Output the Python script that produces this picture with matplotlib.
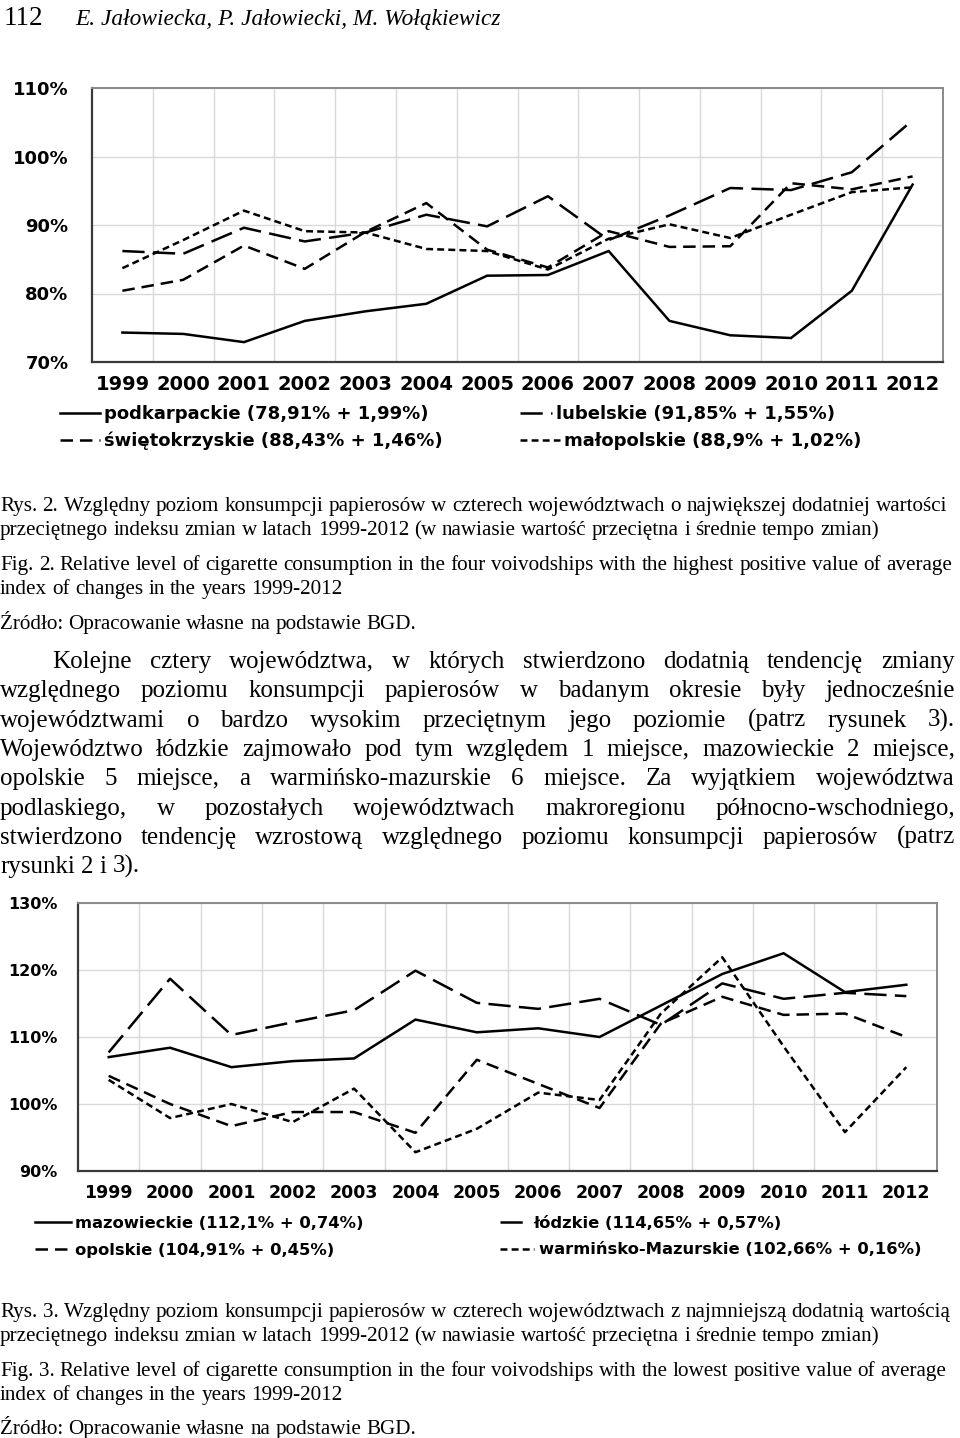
from __future__ import annotations

import matplotlib

matplotlib.use("Agg")
import matplotlib.pyplot as plt
from matplotlib.lines import Line2D
from matplotlib.ticker import FixedLocator

OUT_PNG = "out.png"
W, H = 960, 1438
DPI = 100
SERIF = "Liberation Serif"

YEARS = ["1999", "2000", "2001", "2002", "2003", "2004", "2005",
         "2006", "2007", "2008", "2009", "2010", "2011", "2012"]

# Rys. 2 (values in %)
PODKARPACKIE = [74.3, 74.1, 72.9, 76.0, 77.4, 78.5, 82.6, 82.7, 86.2, 76.0, 73.9, 73.5, 80.4, 95.9]
LUBELSKIE = [86.2, 85.8, 89.6, 87.6, 88.9, 91.5, 89.8, 94.2, 87.8, 91.4, 95.4, 95.1, 97.7, 105.3]
SWIETOKRZYSKIE = [80.4, 82.0, 87.0, 83.6, 89.0, 93.2, 86.4, 83.8, 89.1, 86.8, 86.9, 96.1, 95.2, 97.1]
MALOPOLSKIE = [83.7, 87.8, 92.1, 89.1, 88.9, 86.5, 86.2, 83.5, 88.0, 90.1, 88.1, 91.5, 94.8, 95.5]
LABELS_2 = ["podkarpackie (78,91% + 1,99%)", "lubelskie (91,85% + 1,55%)",
            "świętokrzyskie (88,43% + 1,46%)", "małopolskie (88,9% + 1,02%)"]
YTICKS_2 = [70, 80, 90, 100, 110]

# Rys. 3 (values in %)
MAZOWIECKIE = [107.0, 108.4, 105.5, 106.4, 106.8, 112.6, 110.7, 111.3, 110.0, 114.7, 119.4, 122.5, 116.7, 117.8]
LODZKIE = [107.7, 118.7, 110.3, 112.2, 114.0, 119.9, 115.1, 114.2, 115.7, 111.8, 118.0, 115.7, 116.6, 116.1]
OPOLSKIE = [104.2, 100.0, 96.7, 98.8, 98.8, 95.7, 106.6, 103.0, 99.4, 112.0, 116.0, 113.3, 113.5, 110.0]
WARMINSKO = [103.6, 97.9, 100.0, 97.3, 102.3, 92.8, 96.3, 101.7, 100.6, 113.5, 121.9, 108.6, 95.8, 105.5]
LABELS_3 = ["mazowieckie (112,1% + 0,74%)", "łódzkie (114,65% + 0,57%)",
            "opolskie (104,91% + 0,45%)", "warmińsko-Mazurskie (102,66% + 0,16%)"]
YTICKS_3 = [90, 100, 110, 120, 130]

HEADER_NUM = "112"
HEADER_AUTHORS = "E. Jałowiecka, P. Jałowiecki, M. Wołąkiewicz"

CAPTION_2 = [
    "Rys. 2. Względny poziom konsumpcji papierosów w czterech województwach o największej dodatniej wartości",
    "przeciętnego indeksu zmian w latach 1999-2012 (w nawiasie wartość przeciętna i średnie tempo zmian)",
    "Fig. 2. Relative level of cigarette consumption in the four voivodships with the highest positive value of average",
    "index of changes in the years 1999-2012",
    "Źródło: Opracowanie własne na podstawie BGD.",
]
CAPTION_3 = [
    "Rys. 3. Względny poziom konsumpcji papierosów w czterech województwach z najmniejszą dodatnią wartością",
    "przeciętnego indeksu zmian w latach 1999-2012 (w nawiasie wartość przeciętna i średnie tempo zmian)",
    "Fig. 3. Relative level of cigarette consumption in the four voivodships with the lowest positive value of average",
    "index of changes in the years 1999-2012",
    "Źródło: Opracowanie własne na podstawie BGD.",
]
BODY = [
    "Kolejne cztery województwa, w których stwierdzono dodatnią tendencję zmiany",
    "względnego poziomu konsumpcji papierosów w badanym okresie były jednocześnie",
    "województwami o bardzo wysokim przeciętnym jego poziomie (patrz rysunek 3).",
    "Województwo łódzkie zajmowało pod tym względem 1 miejsce, mazowieckie 2 miejsce,",
    "opolskie 5 miejsce, a warmińsko-mazurskie 6 miejsce. Za wyjątkiem województwa",
    "podlaskiego, w pozostałych województwach makroregionu północno-wschodniego,",
    "stwierdzono tendencję wzrostową względnego poziomu konsumpcji papierosów (patrz",
    "rysunki 2 i 3).",
]

LW = 1.8
STYLES = ["-", (0, (16, 6)), (0, (9, 5)), (0, (5, 3))]


def fx(x: float) -> float:
    return x / W


def fy(y: float) -> float:
    return 1 - y / H


def draw_chart(fig, box, series, labels, yticks, ypad, legend_rows, sizes):
    left, top, right, bottom = box
    xsize, ysize, lsize = sizes
    ax = fig.add_axes([fx(left), fy(bottom), (right - left) / W, (bottom - top) / H])
    x = list(range(len(YEARS)))
    for values, ls in zip(series, STYLES):
        ax.plot(x, values, color="black", linestyle=ls, linewidth=LW,
                solid_joinstyle="miter", dash_capstyle="butt")
    ax.set_xlim(-0.5, len(YEARS) - 0.5)
    ax.set_ylim(yticks[0], yticks[-1])
    ax.set_xticks(x)
    ax.set_xticklabels(YEARS, fontsize=xsize, fontweight="bold")
    ax.xaxis.set_minor_locator(FixedLocator([i + 0.5 for i in x[:-1]]))
    ax.set_yticks(yticks)
    ax.set_yticklabels([f"{v}%" for v in yticks], fontsize=ysize, fontweight="bold")
    ax.tick_params(axis="x", which="both", length=0, pad=9)
    ax.tick_params(axis="y", length=0, pad=ypad)
    ax.grid(True, axis="y", which="major", color="#d9d9d9", linewidth=1.0)
    ax.grid(True, axis="x", which="minor", color="#d9d9d9", linewidth=1.0)
    ax.set_axisbelow(True)
    for side in ["left", "bottom"]:
        ax.spines[side].set_color("#3a3a3a")
        ax.spines[side].set_linewidth(1.6)
    for side in ["top", "right"]:
        ax.spines[side].set_color("#8a8a8a")
        ax.spines[side].set_linewidth(1.4)

    # legend: one entry per block so every entry can be put where it stands on the page
    for idx, (lx, ly, hl) in zip([0, 1, 2, 3], legend_rows):
        handle = Line2D([], [], color="black", linestyle=STYLES[idx], linewidth=LW,
                        dash_capstyle="butt")
        fig.legend([handle], [labels[idx]], loc="center left",
                   bbox_to_anchor=(fx(lx), fy(ly)), frameon=False, borderpad=0,
                   borderaxespad=0, handlelength=hl, handletextpad=0.25,
                   prop={"weight": "bold", "size": lsize})
    return ax


def text_line(fig, renderer, text, x0, baseline, size, x1=None):
    words = text.split(" ")
    arts = [fig.text(0, 0, w, fontsize=size, family=SERIF, va="baseline") for w in words]
    widths = [a.get_window_extent(renderer).width for a in arts]
    probe = fig.text(0, 0, "a a", fontsize=size, family=SERIF)
    probe2 = fig.text(0, 0, "aa", fontsize=size, family=SERIF)
    gap = probe.get_window_extent(renderer).width - probe2.get_window_extent(renderer).width
    probe.remove()
    probe2.remove()
    if x1 is not None and len(words) > 1:
        gap = (x1 - x0 - sum(widths)) / (len(words) - 1)
    x = x0
    for a, w in zip(arts, widths):
        a.set_position((fx(x), fy(baseline)))
        x += w + gap


def main() -> None:
    plt.rcParams["font.family"] = ["DejaVu Sans"]
    plt.rcParams["lines.scale_dashes"] = False
    fig = plt.figure(figsize=(W / DPI, H / DPI), dpi=DPI)
    renderer = fig.canvas.get_renderer()

    fig.text(fx(4), fy(25), HEADER_NUM, fontsize=19.5, family=SERIF, va="baseline")
    fig.text(fx(75), fy(25), HEADER_AUTHORS, fontsize=16.8, family=SERIF,
             style="italic", va="baseline")

    draw_chart(fig, (92, 88, 943, 362),
               [PODKARPACKIE, LUBELSKIE, SWIETOKRZYSKIE, MALOPOLSKIE],
               LABELS_2, YTICKS_2, 17,
               [(60, 414, 2.2), (520, 414, 1.75), (60, 441, 2.2), (520, 441, 2.2)],
               (14, 13, 13))
    draw_chart(fig, (78, 903, 937, 1171),
               [MAZOWIECKIE, LODZKIE, OPOLSKIE, WARMINSKO],
               LABELS_3, YTICKS_3, 15,
               [(35, 1223, 2.2), (500, 1223, 1.75), (35, 1250, 2.2), (500, 1250, 2.1)],
               (12.5, 11.5, 11.8))

    for text, base in zip(CAPTION_2, [511, 535, 570, 594, 629]):
        text_line(fig, renderer, text, 0, base, 15.2)
    for text, base in zip(CAPTION_3, [1317, 1341, 1376, 1400, 1434]):
        text_line(fig, renderer, text, 0, base, 15.2)

    body_base = [668, 697, 727, 756, 785, 815, 844, 873]
    for i, (text, base) in enumerate(zip(BODY, body_base)):
        x0 = 52 if i == 0 else 0
        x1 = 955 if i < len(BODY) - 1 else None
        text_line(fig, renderer, text, x0, base, 18, x1)

    fig.savefig(OUT_PNG, dpi=DPI)
    plt.close(fig)


if __name__ == "__main__":
    main()
